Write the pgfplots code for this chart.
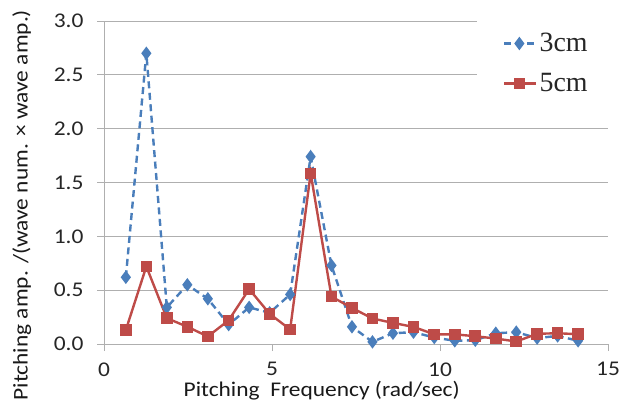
\documentclass[border=0pt]{standalone}
\usepackage{fontspec}
\setmainfont{Carlito}[FakeStretch=1.12]
\newfontfamily\legfont{Liberation Serif}
\usepackage{pgfplots}
\pgfplotsset{compat=1.18}
\definecolor{cblue}{RGB}{74,126,187}
\definecolor{cred}{RGB}{190,75,72}
\definecolor{gridc}{RGB}{175,175,175}
\begin{document}
\begin{tikzpicture}[x=1bp,y=1bp]
\useasboundingbox (0,0) rectangle (621,407);
\begin{axis}[
  at={(104bp,63bp)}, anchor=south west,
  scale only axis, width=504bp, height=323bp,
  xmin=0, xmax=15, ymin=0, ymax=3,
  xtick={0,5,10,15}, ytick={0,0.5,1,1.5,2,2.5,3},
  axis x line*=bottom, axis y line*=left,
  axis line style={gridc, line width=0.9bp},
  tick align=outside, major tick length=7bp,
  tick style={gridc, line width=0.9bp},
  ymajorgrids, grid style={gridc, line width=0.9bp},
  tick label style={font=\fontsize{21}{24}\selectfont, text=black!85},
  /pgf/number format/assume math mode=true,
  y tick label style={/pgf/number format/fixed, /pgf/number format/fixed zerofill, /pgf/number format/precision=1, xshift=-10bp},
  x tick label style={yshift=-8bp},
  xlabel={Pitching\ \ Frequency (rad/sec)},
  ylabel={Pitching amp. /(wave num. \texttimes{} wave amp.)},
  every axis x label/.style={at={(axis description cs:0.432,-0.145)}, anchor=center, font=\fontsize{21}{24}\selectfont, text=black!90},
  every axis y label/.style={at={(axis description cs:-0.163,0.43)}, rotate=90, anchor=center, font=\fontsize{21}{24}\selectfont, text=black!90},
  legend style={at={(axis description cs:0.74,1.03)}, anchor=north west,
    draw=none, fill=white, inner xsep=26bp, inner ysep=20bp,
    font=\legfont\fontsize{28}{30}\selectfont, row sep=16bp,
    nodes={text=black!85}},
  legend cell align=left,
  legend image code/.code={\draw[mark repeat=2, mark phase=2] plot coordinates {(0bp,0bp) (15bp,0bp) (32bp,0bp)};},
  clip=false,
]
\addplot[cblue, line width=2.4bp, dash pattern=on 7bp off 4.5bp, mark=diamond*, mark size=4.8bp, mark options={solid}]
coordinates {
(0.65,0.62) (1.26,2.70) (1.87,0.34) (2.48,0.55) (3.09,0.42) (3.71,0.18)
(4.32,0.34) (4.93,0.29) (5.54,0.46) (6.15,1.74) (6.77,0.73) (7.38,0.16)
(7.99,0.02) (8.60,0.10) (9.21,0.11) (9.83,0.06) (10.44,0.03) (11.05,0.035)
(11.66,0.10) (12.27,0.11) (12.89,0.055) (13.50,0.075) (14.11,0.03)
};
\addlegendentry{3cm}
\addplot[cred, line width=2.4bp, mark=square*, mark size=4.6bp]
coordinates {
(0.65,0.13) (1.26,0.72) (1.87,0.24) (2.48,0.16) (3.09,0.07) (3.71,0.22)
(4.32,0.51) (4.93,0.28) (5.54,0.135) (6.15,1.585) (6.77,0.44) (7.38,0.335)
(7.99,0.237) (8.60,0.196) (9.21,0.159) (9.83,0.09) (10.44,0.09) (11.05,0.072)
(11.66,0.051) (12.27,0.023) (12.89,0.095) (13.50,0.10) (14.11,0.091)
};
\addlegendentry{5cm}
\end{axis}
\end{tikzpicture}
\end{document}
